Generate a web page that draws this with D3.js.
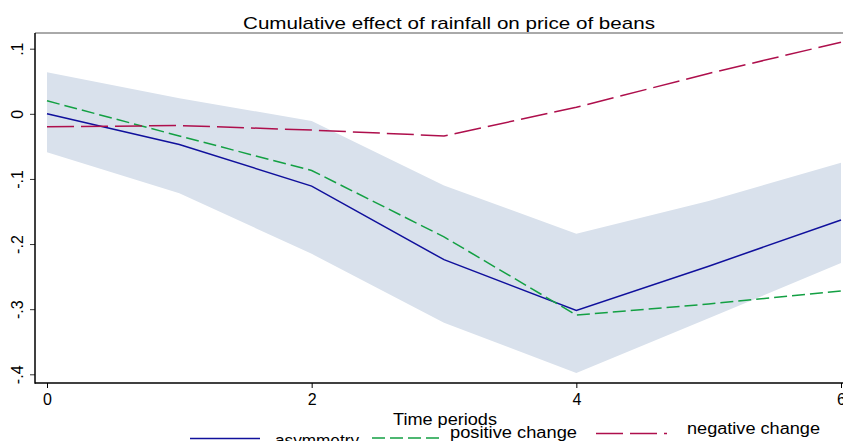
<!DOCTYPE html>
<html>
<head>
<meta charset="utf-8">
<script src="https://cdn.jsdelivr.net/npm/d3@7"></script>
<style>
  body { margin: 0; background: #fff; }
  svg { display: block; font-family: "Liberation Sans", Arial, sans-serif; }
</style>
</head>
<body>
<div id="wrapper"></div>
<script>
// data
const periods = [0, 1, 2, 3, 4, 5, 6]
const asymmetry = [0.000, -0.047, -0.111, -0.224, -0.302, -0.234, -0.163]
const positiveChange = [0.020, -0.034, -0.087, -0.189, -0.309, -0.292, -0.272]
const negativeChange = [-0.020, -0.018, -0.025, -0.034, 0.010, 0.062, 0.110]
const bandUpper = [0.064, 0.024, -0.011, -0.110, -0.184, -0.134, -0.075]
const bandLower = [-0.059, -0.122, -0.215, -0.321, -0.398, -0.314, -0.229]
const xTicks = [0, 2, 4, 6]
const yTicks = [0.1, 0, -0.1, -0.2, -0.3, -0.4]
const yTickLabels = [".1", "0", "-.1", "-.2", "-.3", "-.4"]

const width = 843
const height = 441
const plot = { left: 35, right: 843, top: 33, bottom: 383 }

const svg = d3.select("#wrapper")
    .append("svg")
    .attr("width", width)
    .attr("height", height)

const xScaler = d3.scaleLinear()
    .domain([0, 6])
    .range([47, 841])

const yScaler = d3.scaleLinear()
    .domain([-0.4, 0.1])
    .range([374.3, 48.7])

const rows = periods.map((p, i) => ({
    x: p,
    asym: asymmetry[i],
    pos: positiveChange[i],
    neg: negativeChange[i],
    hi: bandUpper[i],
    lo: bandLower[i],
}))

// confidence band
const area = d3.area()
    .x(d => xScaler(d.x))
    .y0(d => yScaler(d.lo))
    .y1(d => yScaler(d.hi))
svg.append("path")
    .datum(rows)
    .attr("d", area)
    .attr("fill", "#d9e1ec")

const series = [
    { key: "asym", color: "#10109c", dash: null },
    { key: "pos", color: "#13a043", dash: "13,5" },
    { key: "neg", color: "#ae0f4c", dash: "27,7" },
]
series.forEach(s => {
    const line = d3.line()
        .x(d => xScaler(d.x))
        .y(d => yScaler(d[s.key]))
    svg.append("path")
        .datum(rows)
        .attr("d", line)
        .attr("fill", "none")
        .attr("stroke", s.color)
        .attr("stroke-width", 1.5)
        .attr("stroke-dasharray", s.dash)
})

// frame: top line grey, left + bottom axes black
svg.append("line")
    .attr("x1", plot.left).attr("x2", plot.right)
    .attr("y1", plot.top).attr("y2", plot.top)
    .attr("stroke", "#555").attr("stroke-width", 1)

const xAxis = svg.append("g")
    .attr("transform", `translate(0,${plot.bottom})`)
    .call(d3.axisBottom(xScaler).tickValues(xTicks).tickSize(5).tickPadding(6).tickFormat(d3.format("d")))
xAxis.select(".domain").remove()
xAxis.selectAll("line").attr("stroke", "#000")
xAxis.selectAll("text").attr("font-size", 16).attr("font-family", "Liberation Sans, Arial").attr("fill", "#000")

const yAxis = svg.append("g")
    .attr("transform", `translate(${plot.left},0)`)
    .call(d3.axisLeft(yScaler).tickValues(yTicks).tickSize(5).tickFormat((d, i) => yTickLabels[i]))
yAxis.select(".domain").remove()
yAxis.selectAll("line").attr("stroke", "#333")
yAxis.selectAll("text")
    .attr("font-size", 16)
    .attr("font-family", "Liberation Sans, Arial")
    .attr("fill", "#000")
    .attr("text-anchor", "middle")
    .attr("x", 0).attr("dy", 0)
    .attr("transform", "translate(-12,0) rotate(-90)")

svg.append("line")
    .attr("x1", plot.left).attr("x2", plot.left)
    .attr("y1", plot.top).attr("y2", plot.bottom + 0.75)
    .attr("stroke", "#000").attr("stroke-width", 1.5)
svg.append("line")
    .attr("x1", plot.left).attr("x2", plot.right)
    .attr("y1", plot.bottom).attr("y2", plot.bottom)
    .attr("stroke", "#000").attr("stroke-width", 1.5)

// titles (the source text is drawn a bit wider than the font, so stretch it)
svg.append("text")
    .attr("x", 243).attr("y", 29)
    .attr("font-size", 17)
    .attr("textLength", 412)
    .attr("lengthAdjust", "spacingAndGlyphs")
    .text("Cumulative effect of rainfall on price of beans")

svg.append("text")
    .attr("x", 393).attr("y", 425)
    .attr("font-size", 16)
    .attr("textLength", 104)
    .attr("lengthAdjust", "spacingAndGlyphs")
    .text("Time periods")

// legend (items step upwards left to right as in the picture)
const legendItems = [
    { label: "asymmetry", color: "#10109c", dash: null, x1: 190, x2: 260, ly: 438.5, tx: 275, ty: 446, tw: 84 },
    { label: "positive change", color: "#13a043", dash: "13,5", x1: 372, x2: 440, ly: 438, tx: 450, ty: 437.5, tw: 127 },
    { label: "negative change", color: "#ae0f4c", dash: "27,7", x1: 596, x2: 667, ly: 433.5, tx: 687, ty: 434, tw: 133 },
]
const legend = svg.append("g")
legendItems.forEach(d => {
    legend.append("line")
        .attr("x1", d.x1).attr("x2", d.x2)
        .attr("y1", d.ly).attr("y2", d.ly)
        .attr("stroke", d.color).attr("stroke-width", 1.5)
        .attr("stroke-dasharray", d.dash)
    legend.append("text")
        .attr("x", d.tx).attr("y", d.ty)
        .attr("font-size", 16)
        .attr("textLength", d.tw)
        .attr("lengthAdjust", "spacingAndGlyphs")
        .text(d.label)
})
</script>
</body>
</html>
